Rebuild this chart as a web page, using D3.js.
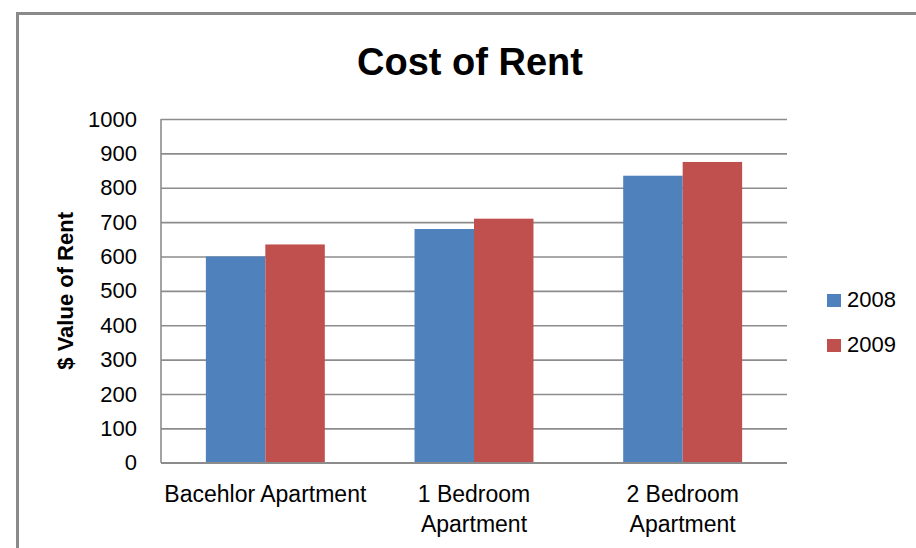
<!DOCTYPE html>
<html>
<head>
<meta charset="utf-8">
<script src="https://cdn.jsdelivr.net/npm/d3@7"></script>
<style>
  html, body { margin: 0; padding: 0; background: #fff; }
  svg { display: block; }
  text { font-family: "Liberation Sans", Arial, sans-serif; fill: #000; }
</style>
</head>
<body>
<svg id="chart" width="916" height="548"></svg>
<script>
const categories = [["Bacehlor Apartment"], ["1 Bedroom", "Apartment"], ["2 Bedroom", "Apartment"]];
const categoryKeys = ["Bacehlor Apartment", "1 Bedroom Apartment", "2 Bedroom Apartment"];
const seriesNames = ["2008", "2009"];
const values2008 = [600, 680, 835];
const values2009 = [635, 710, 875];
const yTicks = [0, 100, 200, 300, 400, 500, 600, 700, 800, 900, 1000];
const colors = ["#4F81BD", "#C0504D"];
const title = "Cost of Rent";
const yTitle = "$ Value of Rent";

const svg = d3.select("#chart");
const plot = { left: 161, right: 787, top: 119, bottom: 462.7 };

// outer border
svg.append("rect")
  .attr("x", 17.5).attr("y", 13.5)
  .attr("width", 940).attr("height", 560)
  .attr("fill", "#fff")
  .attr("stroke", "#8a8a8a").attr("stroke-width", 3);

const y = d3.scaleLinear().domain([0, 1000]).range([plot.bottom, plot.top]);
const x0 = d3.scaleBand().domain(categoryKeys).range([plot.left, plot.right]).padding(0);
const bw = x0.bandwidth();
const x1 = d3.scaleBand().domain(seriesNames).range([bw * 0.215, bw * 0.785]).padding(0);

// gridlines
const yAxis = d3.axisLeft(y).tickValues(yTicks).tickSize(-(plot.right - plot.left)).tickPadding(24).tickFormat(d3.format("d"));
const gy = svg.append("g").attr("transform", `translate(${plot.left},0)`).call(yAxis);
gy.select(".domain").remove();
gy.selectAll(".tick line").attr("stroke", "#8c8c8c").attr("stroke-width", 1.6);
gy.selectAll(".tick text")
  .attr("x", 137 - plot.left)
  .attr("font-size", 22)
  .attr("font-family", "Liberation Sans, Arial, sans-serif")
  .attr("fill", "#000");

// left axis line
svg.append("line")
  .attr("x1", plot.left).attr("x2", plot.left)
  .attr("y1", plot.top).attr("y2", plot.bottom)
  .attr("stroke", "#8c8c8c").attr("stroke-width", 1.6);

// bars
const data = categoryKeys.map((c, i) => ({ cat: c, vals: [values2008[i], values2009[i]] }));
const groups = svg.append("g").selectAll("g").data(data).join("g")
  .attr("transform", d => `translate(${x0(d.cat)},0)`);
groups.selectAll("rect").data(d => d.vals.map((v, j) => ({ s: seriesNames[j], v, j })))
  .join("rect")
  .attr("x", d => x1(d.s))
  .attr("width", x1.bandwidth())
  .attr("y", d => y(d.v))
  .attr("height", d => y(0) - y(d.v))
  .attr("fill", d => colors[d.j]);

// bottom axis line
svg.append("line")
  .attr("x1", plot.left).attr("x2", plot.right)
  .attr("y1", plot.bottom).attr("y2", plot.bottom)
  .attr("stroke", "#8c8c8c").attr("stroke-width", 1.6);

// category labels
categories.forEach((lines, i) => {
  const cx = x0(categoryKeys[i]) + bw / 2;
  const t = svg.append("text")
    .attr("x", cx).attr("y", 502)
    .attr("text-anchor", "middle")
    .attr("font-size", 23);
  lines.forEach((ln, k) => {
    t.append("tspan").attr("x", cx).attr("y", 502 + k * 30).text(ln);
  });
});

// title
svg.append("text")
  .attr("x", 470).attr("y", 75)
  .attr("text-anchor", "middle")
  .attr("font-size", 38).attr("font-weight", "bold")
  .text(title);

// y title
svg.append("text")
  .attr("transform", `translate(73,${(plot.top + plot.bottom) / 2}) rotate(-90)`)
  .attr("text-anchor", "middle")
  .attr("font-size", 22).attr("font-weight", "bold")
  .text(yTitle);

// legend
const legend = svg.append("g");
seriesNames.forEach((s, i) => {
  const ly = 294 + i * 45;
  legend.append("rect").attr("x", 827).attr("y", ly).attr("width", 14).attr("height", 13).attr("fill", colors[i]);
  legend.append("text").attr("x", 847).attr("y", ly + 13).attr("font-size", 22).text(s);
});
</script>
</body>
</html>
